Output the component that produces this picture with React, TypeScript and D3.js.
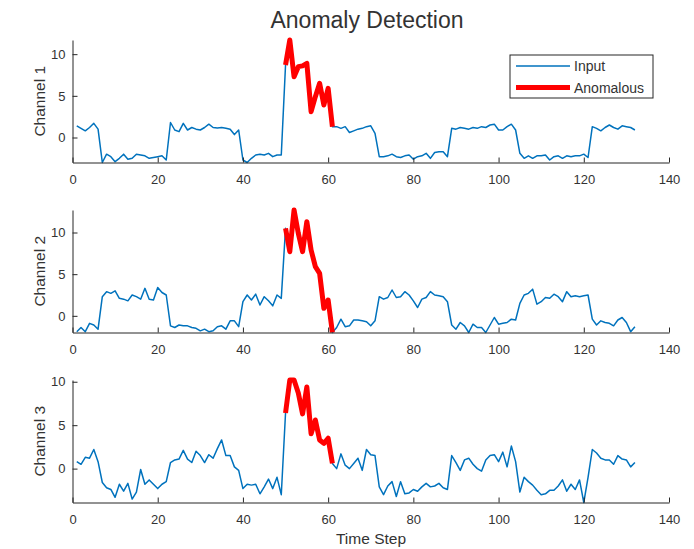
import React, { useRef, useEffect } from "react";
import * as d3 from "d3";

// values, one per time step (1..132)
const channel1 = [
  1.4, 1.1, 0.8, 1.2, 1.7, 1.0, -3.0, -2.0, -2.3, -2.9,
  -2.5, -2.0, -2.6, -2.5, -2.0, -2.1, -2.2, -2.5, -2.4, -2.3,
  -2.2, -2.7, 1.8, 0.9, 0.7, 1.7, 0.9, 1.2, 1.0, 0.9,
  1.2, 1.6, 1.2, 1.15, 1.2, 1.1, 1.0, 0.35, 0.9, -2.7,
  -3.0, -2.5, -2.1, -2.0, -2.1, -1.9, -2.3, -2.1, -2.1, 8.7,
  11.7, 7.3, 8.5, 8.6, 8.9, 3.1, 4.9, 6.5, 3.9, 5.9,
  1.3, 1.3, 1.1, 1.3, 0.6, 0.8, 1.0, 1.1, 1.3, 1.4,
  0.5, -2.3, -2.3, -2.2, -2.0, -2.3, -2.4, -2.2, -2.1, -2.6,
  -2.3, -2.2, -1.9, -2.5, -1.8, -1.7, -1.7, -2.3, 1.1, 1.0,
  1.2, 1.1, 1.0, 1.2, 1.1, 1.3, 1.2, 1.5, 1.6, 0.9,
  0.9, 1.3, 1.6, 0.9, -1.9, -2.5, -2.2, -2.5, -2.2, -2.2,
  -2.1, -2.7, -2.3, -2.2, -2.5, -2.2, -2.3, -2.2, -2.2, -2.0,
  -2.4, 1.3, 1.1, 0.8, 1.2, 1.5, 1.2, 1.0, 1.4, 1.3,
  1.2, 0.9,
];

const channel2 = [
  -1.9, -1.4, -1.9, -0.9, -1.1, -1.6, 2.3, 2.9, 2.7, 3.0,
  2.1, 2.0, 1.8, 2.5, 2.3, 2.0, 3.3, 2.0, 1.9, 3.4,
  2.8, 2.5, -1.2, -1.4, -1.1, -1.2, -1.2, -1.4, -1.5, -1.8,
  -1.6, -1.9, -1.8, -1.3, -1.2, -1.6, -0.6, -0.6, -1.3, 1.7,
  2.5, 1.9, 2.6, 1.3, 2.3, 1.8, 1.2, 2.5, 2.1, 10.5,
  7.7, 12.7, 9.9, 7.7, 11.3, 7.9, 5.9, 5.1, 0.9, 1.9,
  -2.0, -1.4, -0.4, -1.3, -1.2, -0.5, -0.5, -0.6, -0.7, -1.2,
  -0.6, 2.3, 2.0, 2.2, 3.1, 2.2, 2.3, 2.9, 2.5, 1.8,
  1.0, 2.0, 2.2, 2.9, 2.5, 2.4, 2.3, 1.7, -1.1, -1.6,
  -0.8, -1.2, -2.0, -1.0, -1.4, -1.4, -2.0, -1.1, -0.2, -1.0,
  -0.9, -0.8, -0.4, -0.5, 1.5, 2.5, 2.7, 3.2, 1.4, 1.7,
  2.2, 2.1, 2.6, 2.3, 1.7, 2.9, 2.3, 2.4, 2.3, 2.4,
  2.5, -0.4, -1.1, -0.6, -0.8, -0.9, -1.2, -0.5, -0.2, -0.8,
  -1.9, -1.3,
];

const channel3 = [
  0.8, 0.5, 1.3, 1.2, 2.2, 0.8, -1.6, -2.2, -2.4, -3.3,
  -1.8, -2.6, -1.7, -3.5, -2.7, -0.1, -1.8, -1.3, -1.8, -2.3,
  -1.8, -1.5, 0.7, 1.0, 1.1, 2.1, 1.1, 0.7, 2.0, 1.5,
  0.7, 1.6, 1.2, 2.3, 3.3, 1.5, 1.5, 0.2, -0.2, -2.3,
  -1.8, -1.9, -1.8, -2.9, -2.1, -1.2, -2.3, -1.0, -3.0, 6.4,
  10.2, 10.2, 8.7, 6.3, 9.4, 4.0, 5.6, 3.3, 2.9, 3.5,
  0.6, 0.0, 1.7, 0.4, 0.0, 0.6, 1.2, -0.2, 2.2, 1.6,
  1.5, -2.1, -3.0, -2.0, -1.5, -3.2, -1.5, -2.9, -2.8, -2.4,
  -2.6, -2.1, -1.7, -2.1, -2.0, -1.7, -2.2, -2.4, 1.5, 0.7,
  -0.2, 1.0, 1.2, 0.5, 0.0, -0.3, 1.0, 1.5, 1.6, 0.8,
  1.9, 0.2, 2.6, 0.8, -2.7, -1.0, -1.5, -1.9, -2.5, -3.0,
  -2.9, -2.5, -2.5, -2.0, -1.3, -2.6, -1.8, -2.4, -1.3, -3.9,
  -1.0, 2.2, 1.8, 1.2, 1.0, 1.0, 0.5, 1.5, 1.1, 1.0,
  0.2, 0.7,
];

const channels = [channel1, channel2, channel3];
const channelLabels = ["Channel 1", "Channel 2", "Channel 3"];
const anomalyStart = 50;
const anomalyEnd = 61;
const xTicks = [0, 20, 40, 60, 80, 100, 120, 140];
const yTicks = [0, 5, 10];
const legendLabels = ["Input", "Anomalous"];

const FONT = "'Liberation Sans', Arial, Helvetica, sans-serif";
const AX = "#262626";
const TXT = "#333333";
const BLUE = "#0072BD";
const RED = "#FF0000";

const App = () => {
  const svgRef = useRef(null);

  useEffect(() => {
    const svg = d3.select(svgRef.current);
    svg.selectAll("*").remove();

    const left = 72.5,
      right = 669,
      panelTop = [40, 210, 380],
      panelH = 122.5;

    const x = d3.scaleLinear().domain([0, 140]).range([left, right]);

    // title
    svg
      .append("text")
      .attr("x", 367)
      .attr("y", 28)
      .attr("text-anchor", "middle")
      .style("font-family", FONT)
      .style("font-size", "23px")
      .style("fill", TXT)
      .text("Anomaly Detection");

    channels.forEach((data, k) => {
      const top = panelTop[k];
      const bottom = top + panelH;
      const pts = data.map((v, i) => ({ t: i + 1, v }));
      const y = d3
        .scaleLinear()
        .domain(d3.extent(data) as [number, number])
        .range([bottom, top]);

      const g = svg.append("g");

      const line = d3
        .line<{ t: number; v: number }>()
        .x((d) => x(d.t))
        .y((d) => y(d.v));

      g.append("path")
        .datum(pts)
        .attr("d", line)
        .attr("fill", "none")
        .attr("stroke", BLUE)
        .attr("stroke-width", 1.5)
        .attr("stroke-linejoin", "round");

      g.append("path")
        .datum(pts.filter((d) => d.t >= anomalyStart && d.t <= anomalyEnd))
        .attr("d", line)
        .attr("fill", "none")
        .attr("stroke", RED)
        .attr("stroke-width", 5)
        .attr("stroke-linejoin", "round");

      // axes: ticks point inward like matlab
      const xa = g
        .append("g")
        .attr("transform", `translate(0, ${bottom})`)
        .call(d3.axisBottom(x).tickValues(xTicks).tickSize(-5).tickSizeOuter(0).tickPadding(12));
      const ya = g
        .append("g")
        .attr("transform", `translate(${left}, 0)`)
        .call(d3.axisLeft(y).tickValues(yTicks).tickSize(-5).tickSizeOuter(0).tickPadding(7));

      [xa, ya].forEach((a) => {
        a.select(".domain").attr("stroke", AX).attr("stroke-width", 1);
        a.selectAll(".tick line").attr("stroke", AX);
        a.selectAll(".tick text")
          .style("font-family", FONT)
          .style("font-size", "13px")
          .style("fill", TXT);
      });

      svg
        .append("text")
        .attr("transform", `translate(45, ${(top + bottom) / 2}) rotate(-90)`)
        .attr("text-anchor", "middle")
        .style("font-family", FONT)
        .style("font-size", "15.5px")
        .style("fill", TXT)
        .text(channelLabels[k]);
    });

    svg
      .append("text")
      .attr("x", 371)
      .attr("y", 544)
      .attr("text-anchor", "middle")
      .style("font-family", FONT)
      .style("font-size", "15.5px")
      .style("fill", TXT)
      .text("Time Step");

    // legend
    const lg = svg.append("g").attr("transform", "translate(510, 55)");
    lg.append("rect")
      .attr("width", 143)
      .attr("height", 43)
      .attr("fill", "white")
      .attr("stroke", AX)
      .attr("stroke-width", 1);
    legendLabels.forEach((lab, i) => {
      const yy = 11 + i * 21.5;
      lg.append("line")
        .attr("x1", 6)
        .attr("x2", 60)
        .attr("y1", yy)
        .attr("y2", yy)
        .attr("stroke", i === 0 ? BLUE : RED)
        .attr("stroke-width", i === 0 ? 1.5 : 5);
      lg.append("text")
        .attr("x", 64)
        .attr("y", yy + 5)
        .style("font-family", FONT)
        .style("font-size", "14px")
        .style("fill", TXT)
        .text(lab);
    });
  }, []);

  return (
    <div style={{ position: "absolute", left: 0, top: 0, background: "white" }}>
      <svg ref={svgRef} width={694} height={549} style={{ display: "block" }}></svg>
    </div>
  );
};

export default App;
